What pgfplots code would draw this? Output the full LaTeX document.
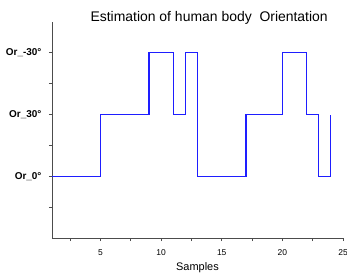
\documentclass[border=0pt]{standalone}
\usepackage{pgfplots}
\pgfplotsset{compat=1.18}
\usepackage{fontspec}
\setmainfont{Liberation Sans}
\begin{document}
\begin{tikzpicture}
\begin{axis}[
  scale only axis,
  width=291bp, height=216bp,
  xmin=1, xmax=25, ymin=-1, ymax=2.5,
  axis x line=bottom, axis y line=left,
  axis line style={-, draw=black!70, line width=0.8bp},
  tick align=outside,
  major tick length=3bp, minor tick length=3bp,
  tick style={draw=black!70, line width=0.8bp},
  xtick={5,10,15,20,25},
  minor xtick={2.5,7.5,12.5,17.5,22.5},
  ytick={0,1,2},
  yticklabels={Or\_0°, Or\_30°, Or\_-30°},
  minor ytick={-0.5,0.5,1.5},
  /pgf/number format/assume math mode=true,
  xticklabel style={font=\fontsize{8.5}{9}\selectfont, yshift=-5bp},
  yticklabel style={font=\fontsize{10}{12}\selectfont\bfseries, xshift=-4bp},
  xlabel={Samples},
  xlabel style={font=\fontsize{11}{12}\selectfont, yshift=0bp},
  title={Estimation of human body\ \ Orientation},
  title style={font=\fontsize{14}{16}\selectfont, at={(0.54,1)}, anchor=south, yshift=-12bp},
  clip=false,
]
\addplot[const plot, color={rgb,255:red,30;green,30;blue,255}, line width=1.2bp] coordinates {
  (1,0) (5,1) (9,2) (11,1) (12,2) (13,0) (17,1) (20,2) (22,1) (23,0) (24,1)
};
\end{axis}
\pgfresetboundingbox
\path (current axis.south west) ++(-52bp,-35bp) coordinate (bbA);
\path (current axis.north east) ++(4bp,22bp) coordinate (bbB);
\useasboundingbox (bbA) rectangle (bbB);
\end{tikzpicture}
\end{document}
